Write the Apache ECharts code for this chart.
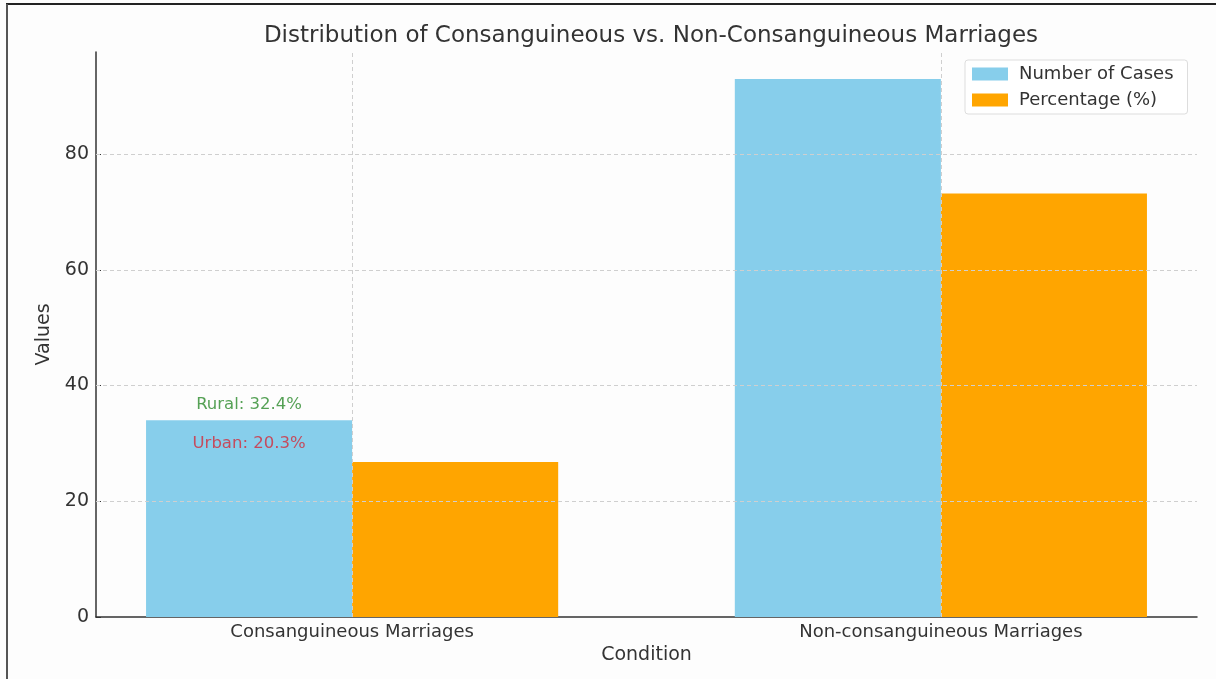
<!DOCTYPE html>
<html>
<head>
<meta charset="utf-8">
<script src="https://cdn.jsdelivr.net/npm/echarts@6/dist/echarts.min.js"></script>
<style>
html,body{margin:0;padding:0;background:#fdfdfd;}
#chart{width:1216px;height:679px;}
</style>
</head>
<body>
<div id="chart"></div>
<script>
const categories = ['Consanguineous Marriages', 'Non-consanguineous Marriages'];
const numberOfCases = [34, 93];
const percentage = [26.8, 73.2];
const annotationTexts = ['Rural: 32.4%', 'Urban: 20.3%'];
const annotationValues = [36.7, 30.0];
const annotationColors = ['#2a8a2a', '#d42a3a'];
const yTicks = [0, 20, 40, 60, 80];

const chart = echarts.init(document.getElementById('chart'));
const font = 'DejaVu Sans';
const gridLine = { color: '#cfcfcf', type: [4, 3], width: 1 };

const option = {
  backgroundColor: '#fdfdfd',
  animation: false,
  textStyle: { fontFamily: font },
  title: {
    text: 'Distribution of Consanguineous vs. Non-Consanguineous Marriages',
    left: 646, top: 20, textAlign: 'center',
    textStyle: { fontFamily: font, fontSize: 23, fontWeight: 'normal', color: '#333' }
  },
  legend: {
    orient: 'vertical', left: 965, top: 60,
    icon: 'rect', itemWidth: 36, itemHeight: 13, itemGap: 8,
    padding: [5, 14, 5, 7],
    backgroundColor: '#ffffff', borderColor: '#dddddd', borderWidth: 1, borderRadius: 3,
    textStyle: { fontFamily: font, fontSize: 18, color: '#333', padding: [0, 0, 0, 6] },
    data: ['Number of Cases', 'Percentage (%)']
  },
  grid: { left: 96, right: 19, top: 52, bottom: 62, containLabel: false },
  xAxis: {
    type: 'value', min: -0.435, max: 1.435,
    name: 'Condition', nameLocation: 'middle', nameGap: 27,
    nameTextStyle: { fontFamily: font, fontSize: 19, color: '#333' },
    axisLine: { show: true, onZero: false, lineStyle: { color: '#333', width: 1.5 } },
    axisTick: { show: true, inside: true, length: 5, customValues: [0, 1], lineStyle: { color: '#333' } },
    axisLabel: {
      customValues: [0, 1], margin: 6, fontSize: 18, color: '#333', fontFamily: font,
      formatter: v => categories[Math.round(v)]
    },
    splitLine: { show: false }
  },
  yAxis: {
    type: 'value', min: 0, max: 97.65,
    name: 'Values', nameLocation: 'middle', nameGap: 40, nameRotate: 90,
    nameTextStyle: { fontFamily: font, fontSize: 19, color: '#333' },
    axisLine: { show: true, onZero: false, lineStyle: { color: '#333', width: 1.5 } },
    axisTick: { show: true, inside: true, length: 5, customValues: yTicks, lineStyle: { color: '#333' } },
    axisLabel: { customValues: yTicks, margin: 7, fontSize: 19, color: '#333', fontFamily: font },
    splitLine: { show: false }
  },
  series: [
    {
      name: 'Number of Cases', type: 'bar',
      data: numberOfCases.map((v, i) => [i, v]),
      barWidth: '35%', barGap: '0%',
      itemStyle: { color: '#87CEEB' }
    },
    {
      name: 'Percentage (%)', type: 'bar',
      data: percentage.map((v, i) => [i, v]),
      barWidth: '35%', barGap: '0%',
      itemStyle: { color: '#FFA500' }
    },
    {
      name: 'annotations', type: 'scatter', symbolSize: 0,
      data: annotationTexts.map((t, i) => ({
        value: [-0.175, annotationValues[i]],
        label: { show: true, position: 'inside', formatter: t, color: annotationColors[i],
          fontSize: 16.5, fontFamily: font }
      })),
      markLine: {
        silent: true, symbol: ['none', 'none'],
        label: { show: false }, lineStyle: gridLine,
        data: yTicks.slice(1).map(t => ({ yAxis: t })).concat([0, 1].map(x => ({ xAxis: x })))
      },
      z: 20, silent: true
    }
  ]
};
chart.setOption(option);
</script>
<svg style="position:absolute;left:0;top:0;pointer-events:none" width="1216" height="679">
  <line x1="6" y1="4" x2="1216" y2="4" stroke="#222" stroke-width="2"/>
  <line x1="7" y1="4" x2="7" y2="679" stroke="#555" stroke-width="2"/>
</svg>
</body>
</html>
